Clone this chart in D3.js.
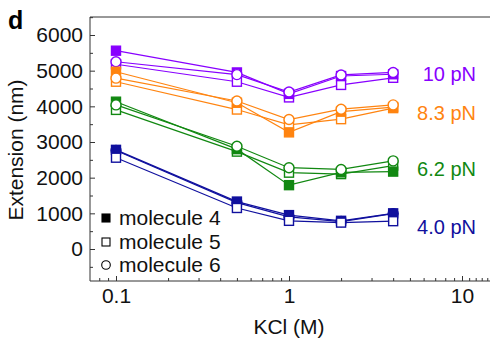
<!DOCTYPE html>
<html>
<head>
<meta charset="utf-8">
<script src="https://cdn.jsdelivr.net/npm/d3@7/dist/d3.min.js"></script>
<style>
  html, body { margin: 0; padding: 0; background: #fff; }
  svg { display: block; font-family: "Liberation Sans", Arial, sans-serif; }
</style>
</head>
<body>
<svg id="chart" width="490" height="345"></svg>
<script>
// KCl concentrations (M)
const kcl = [0.1, 0.5, 1, 2, 4];

// force groups
const forces = ["10 pN", "8.3 pN", "6.2 pN", "4.0 pN"];
const forceColors = ["#8800ff", "#ff8410", "#118811", "#10109e"];

// extension (nm) per force group, one array per molecule
const molecule4 = [
  [5560, 4950, 4350, 4850, 4900],
  [4970, 4100, 3270, 3850, 3980],
  [4130, 2800, 1790, 2150, 2170],
  [2780, 1330, 950, 790, 1000]
];
const molecule5 = [
  [5180, 4690, 4250, 4600, 4800],
  [4690, 3910, 3480, 3640, 3950],
  [3900, 2730, 2140, 2100, 2340],
  [2560, 1150, 790, 740, 780]
];
const molecule6 = [
  [5250, 4890, 4400, 4880, 4950],
  [4790, 4150, 3630, 3920, 4040],
  [4040, 2880, 2280, 2230, 2470],
  [2760, 1300, 900, 770, 990]
];

const moleculeNames = ["molecule 4", "molecule 5", "molecule 6"];
const yTicks = [0, 1000, 2000, 3000, 4000, 5000, 6000];
const xTicks = [0.1, 1, 10];

const svg = d3.select("#chart");

const frame = { left: 90, right: 500, top: 17, bottom: 281 };
const x = d3.scaleLog().domain([0.1, 10]).range([116, 462]);
const y = d3.scaleLinear().domain([0, 6000]).range([249, 35]);

const axisColor = "#333";

// frame
svg.append("path")
  .attr("d", `M${frame.right},${frame.top}H${frame.left}V${frame.bottom}H${frame.right}`)
  .attr("fill", "none").attr("stroke", axisColor).attr("stroke-width", 1);

// y axis
const yMinor = d3.range(-500, 6501, 500).filter(v => v % 1000 !== 0);
const yAx = svg.append("g").attr("transform", `translate(${frame.left},0)`)
  .call(d3.axisLeft(y).tickValues(yTicks).tickSize(-5).tickPadding(7).tickFormat(d3.format("d")));
yAx.append("g").call(d3.axisLeft(y).tickValues(yMinor).tickSize(-3).tickFormat(""))
  .select(".domain").remove();
yAx.select(".domain").remove();
yAx.selectAll("line").attr("stroke", axisColor);
yAx.selectAll("text").attr("font-size", 21).attr("fill", "#111")
  .attr("font-family", "Liberation Sans, Arial, sans-serif");

// x axis
const xMinor = [0.08, 0.09, 0.2, 0.3, 0.4, 0.5, 0.6, 0.7, 0.8, 0.9,
  2, 3, 4, 5, 6, 7, 8, 9, 11, 12, 13, 14];
const xAx = svg.append("g").attr("transform", `translate(0,${frame.bottom})`)
  .call(d3.axisBottom(x).tickValues(xTicks).tickSize(-5).tickPadding(7).tickFormat(d => d3.format("")(d)));
xAx.append("g").call(d3.axisBottom(x).tickValues(xMinor).tickSize(-3).tickFormat(""))
  .select(".domain").remove();
xAx.select(".domain").remove();
xAx.selectAll("line").attr("stroke", axisColor);
xAx.selectAll("text").attr("font-size", 21).attr("fill", "#111")
  .attr("font-family", "Liberation Sans, Arial, sans-serif");

// axis titles
svg.append("text").attr("x", 289).attr("y", 334).attr("text-anchor", "middle")
  .attr("font-size", 21).attr("fill", "#111").text("KCl (M)");
svg.append("text").attr("transform", "translate(23,150) rotate(-90)")
  .attr("text-anchor", "middle").attr("font-size", 21).attr("fill", "#111")
  .text("Extension (nm)");

// panel letter
svg.append("text").attr("x", 8).attr("y", 29).attr("font-size", 25)
  .attr("font-weight", "bold").attr("fill", "#000").text("d");

// series
const molecules = [molecule4, molecule5, molecule6];
const line = d3.line().x((d, i) => x(kcl[i])).y(d => y(d));

const lines = svg.append("g");
forces.forEach((f, g) => {
  molecules.forEach(m => {
    lines.append("path").datum(m[g]).attr("d", line)
      .attr("fill", "none").attr("stroke", forceColors[g]).attr("stroke-width", 1.2);
  });
});

const sq = 9, r = 5;
function drawMarkers(layer, vals, kind, color, circleFilled) {
  const sel = layer.selectAll(null).data(vals).enter();
  if (kind === "circle") {
    sel.append("circle").attr("cx", (d, i) => x(kcl[i])).attr("cy", d => y(d)).attr("r", r)
      .attr("fill", circleFilled ? color : "#fff").attr("stroke", color).attr("stroke-width", 1.4);
  } else {
    sel.append("rect").attr("x", (d, i) => x(kcl[i]) - sq / 2).attr("y", d => y(d) - sq / 2)
      .attr("width", sq).attr("height", sq)
      .attr("fill", kind === "filled" ? color : "#fff")
      .attr("stroke", color).attr("stroke-width", 1.4);
  }
}

const marks = svg.append("g");
forces.forEach((f, g) => {
  const c = forceColors[g];
  const layer = marks.append("g");
  if (g === 3) {
    drawMarkers(layer, molecule4[g], "filled", c);
    drawMarkers(layer, molecule6[g], "circle", c, true);
    drawMarkers(layer, molecule5[g], "open", c);
  } else {
    drawMarkers(layer, molecule5[g], "open", c);
    drawMarkers(layer, molecule4[g], "filled", c);
    drawMarkers(layer, molecule6[g], "circle", c, false);
  }
});

// force labels
const labelY = [81, 120, 176, 234];
forces.forEach((f, g) => {
  svg.append("text").attr("x", 476).attr("y", labelY[g]).attr("text-anchor", "end")
    .attr("font-size", 20).attr("fill", forceColors[g]).text(f);
});

// legend
const leg = svg.append("g");
const legY = [218, 242, 265];
moleculeNames.forEach((name, i) => {
  const cy = legY[i];
  if (i === 2) {
    leg.append("circle").attr("cx", 106).attr("cy", cy).attr("r", 4.3)
      .attr("fill", "#fff").attr("stroke", "#000").attr("stroke-width", 1.1);
  } else {
    leg.append("rect").attr("x", 102).attr("y", cy - 4).attr("width", 8).attr("height", 8)
      .attr("fill", i === 0 ? "#000" : "#fff").attr("stroke", "#000").attr("stroke-width", 1.1);
  }
  leg.append("text").attr("x", 119).attr("y", cy + 7).attr("font-size", 21)
    .attr("fill", "#111").text(name);
});
</script>
</body>
</html>
